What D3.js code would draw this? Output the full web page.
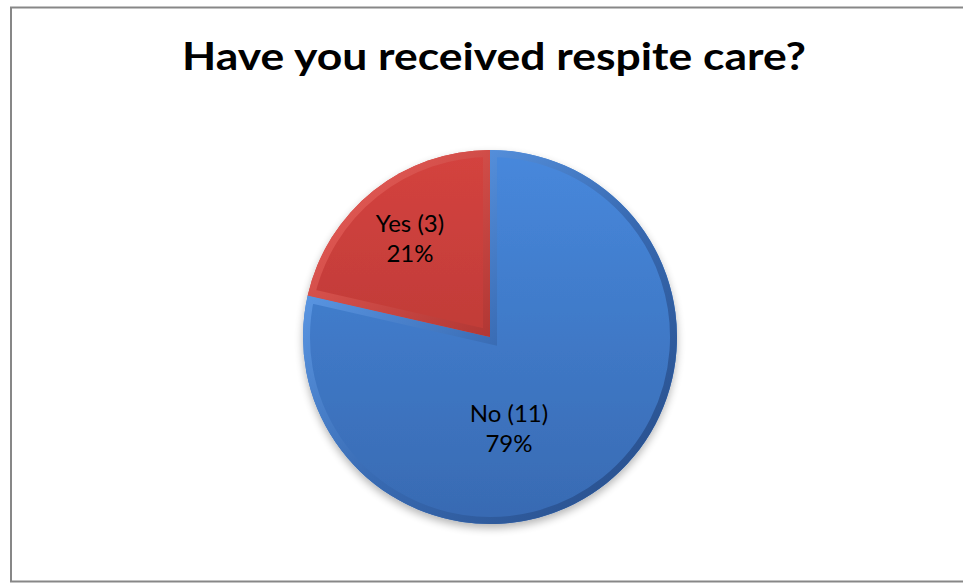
<!DOCTYPE html>
<html><head><meta charset="utf-8">
<script src="https://cdn.jsdelivr.net/npm/d3@7"></script>
<style>body{margin:0;background:#fff}svg{display:block}</style>
</head><body><svg id="c" width="963" height="585"></svg>
<script>
const title = "Have you received respite care?";
const categories = ["No", "Yes"];
const counts = [11, 3];
const percents = ["79%", "21%"];
const faceTop = ["#4788dc", "#d4433f"];
const faceBottom = ["#386ab2", "#ad3431"];
const bevelLight = ["#5e9be8", "#dc5550"];
const bevelDark = ["#2b5493", "#84282a"];

const svg = d3.select("#c");
svg.append("rect").attr("x", 11).attr("y", 7.5).attr("width", 960).attr("height", 574)
  .attr("fill", "#fff").attr("stroke", "#878787").attr("stroke-width", 2);

svg.append("text").attr("x", 494).attr("y", 70).attr("text-anchor", "middle")
  .attr("font-family", "Lato, 'Open Sans', sans-serif").attr("font-weight", "bold")
  .attr("font-size", 38).attr("fill", "#000")
  .attr("textLength", 624).attr("lengthAdjust", "spacingAndGlyphs").text(title);

const cx = 490, cy = 337, r = 187;
const defs = svg.append("defs");
categories.forEach((c, i) => {
  const g = defs.append("linearGradient").attr("id", "g" + i)
    .attr("gradientUnits", "userSpaceOnUse").attr("x1", 0).attr("y1", -r).attr("x2", 0).attr("y2", r);
  g.append("stop").attr("offset", "0%").attr("stop-color", faceTop[i]);
  g.append("stop").attr("offset", "100%").attr("stop-color", faceBottom[i]);
  const b = defs.append("linearGradient").attr("id", "b" + i)
    .attr("gradientUnits", "userSpaceOnUse").attr("x1", -r * 0.7).attr("y1", -r * 0.7).attr("x2", r * 0.7).attr("y2", r * 0.7);
  b.append("stop").attr("offset", "0%").attr("stop-color", bevelLight[i]);
  b.append("stop").attr("offset", "55%").attr("stop-color", faceBottom[i]);
  b.append("stop").attr("offset", "100%").attr("stop-color", bevelDark[i]);
});
const f = defs.append("filter").attr("id", "sh").attr("x", "-20%").attr("y", "-20%").attr("width", "140%").attr("height", "140%");
f.append("feGaussianBlur").attr("in", "SourceAlpha").attr("stdDeviation", 4);
f.append("feOffset").attr("dx", 0).attr("dy", 4).attr("result", "b");
f.append("feComponentTransfer").append("feFuncA").attr("type", "linear").attr("slope", 0.3);
const fm = f.append("feMerge"); fm.append("feMergeNode"); fm.append("feMergeNode").attr("in", "SourceGraphic");

const pie = d3.pie().sort(null).value(d => d)(counts);
const arc = d3.arc().innerRadius(0).outerRadius(r);
const gp = svg.append("g").attr("transform", `translate(${cx},${cy})`);
gp.append("g").attr("filter", "url(#sh)").selectAll("path").data(pie).join("path")
  .attr("d", arc).attr("fill", (d, i) => `url(#g${i})`);
pie.forEach((d, i) => {
  defs.append("clipPath").attr("id", "cp" + i).append("path").attr("d", arc(d));
  gp.append("path").attr("d", arc(d)).attr("fill", "none")
    .attr("stroke", `url(#b${i})`).attr("stroke-width", 14).attr("stroke-linejoin", "miter")
    .attr("clip-path", `url(#cp${i})`);
});

const labelPos = [[509, 422], [410, 232]];
pie.forEach((d, i) => {
  const tx = svg.append("text").attr("text-anchor", "middle")
    .attr("font-family", "Lato, 'Open Sans', sans-serif").attr("font-size", 24).attr("fill", "#000");
  tx.append("tspan").attr("x", labelPos[i][0]).attr("y", labelPos[i][1]).text(`${categories[i]} (${counts[i]})`);
  tx.append("tspan").attr("x", labelPos[i][0]).attr("y", labelPos[i][1] + 30).text(percents[i]);
});
</script></body></html>
